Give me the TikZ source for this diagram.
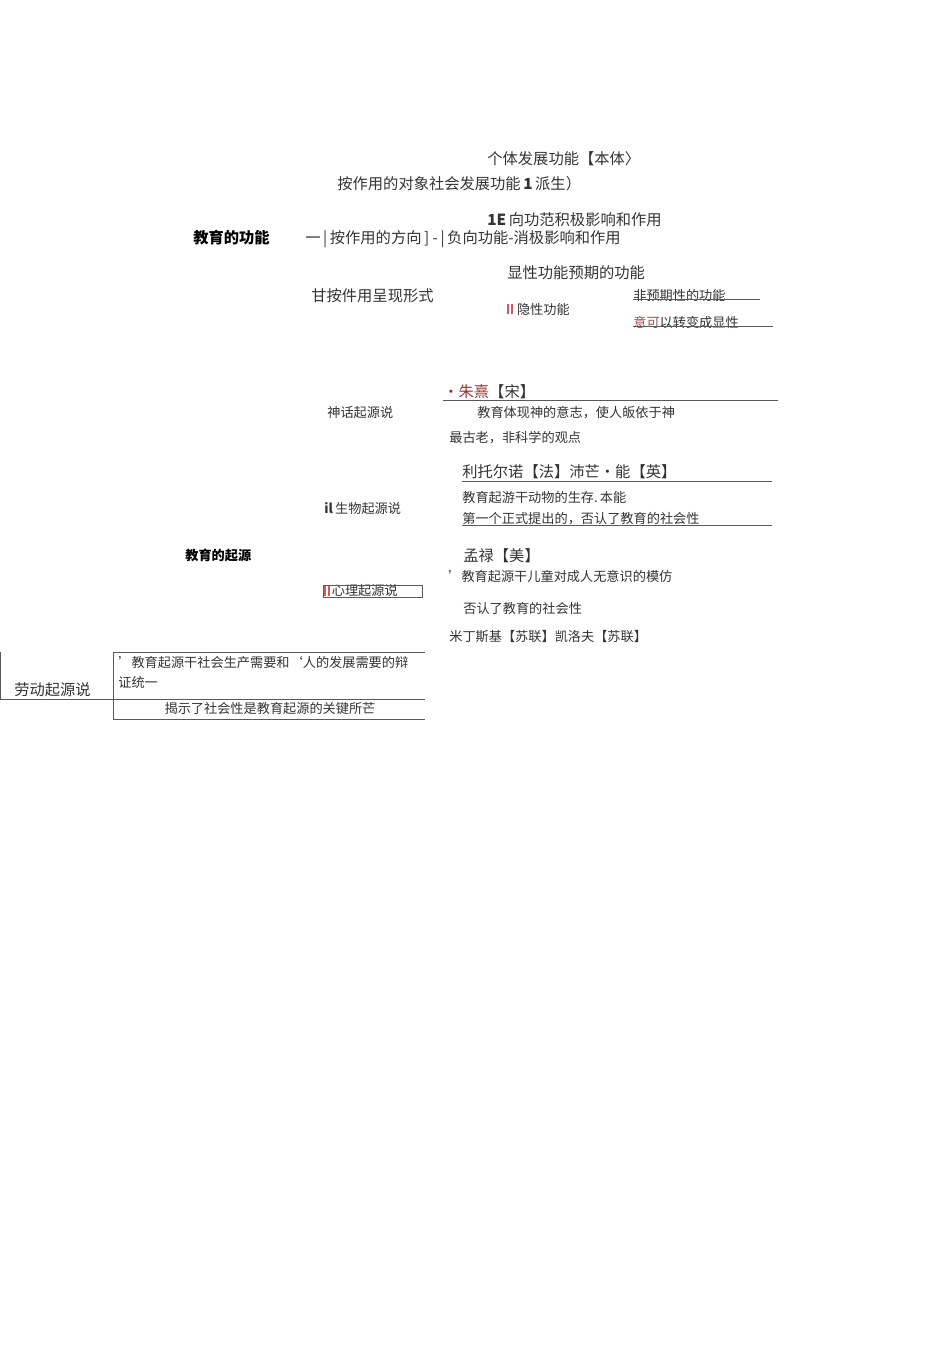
\documentclass[tikz,border=0pt]{standalone}
\usepackage{fontspec}
\setmainfont{Noto Sans CJK SC}
\usepackage{tikz}
\usetikzlibrary{positioning}

\newcommand{\redbars}{{\color{red!75!black!65}\rule{1.1pt}{5.5pt}\hspace{0.8pt}\rule{1.1pt}{5.5pt}}}

\begin{document}
\begin{tikzpicture}[x=0.02cm,y=-0.02cm,
	txt/.style={anchor=west,inner sep=0pt,text=black!80,font=\fontsize{8.7}{10}\selectfont},
	small txt/.style={txt,font=\fontsize{7.5}{9}\selectfont},
	head txt/.style={txt,text=black,font=\fontsize{8.7}{10}\selectfont\bfseries},
	rule/.style={draw=black!65,line width=0.5pt}]
	
	\useasboundingbox (0,0) rectangle (950,1354);
	
	% educational functions
	\node[head txt] (func) at (193,238) {教育的功能};
	\node[txt] (indiv) at (487,159) {个体发展功能【本体〉};
	\node[txt] (obj) at (337,184) {按作用的对象社会发展功能\,\textbf{1}\,派生）};
	\node[txt] (pos) at (487,220) {\textbf{1E}\,向功范积极影响和作用};
	\node[txt] (dir) at (305,239) {一\,|\,按作用的方向\,]\ -\,|\,负向功能-消极影响和作用};
	\node[txt] (expl) at (507,273) {显性功能预期的功能};
	\node[txt] (form) at (311,296) {甘按件用呈现形式};
	\node[small txt] (impl) at (507,309) {\redbars\,\,隐性功能};
	\node[small txt] (unexp) at (633,295) {非预期性的功能};
	\node[small txt] (conv) at (633,322) {{\color{red!50!black!70}意可}以转变成显性};
	\coordinate (unexp e) at (760,299);
	\coordinate (conv e) at (773,326);
	\draw[rule] (unexp.west |- unexp e) -- (unexp e);
	\draw[rule] (conv.west |- conv e) -- (conv e);
	
	% origins of education
	\node[head txt,font=\fontsize{7.5}{9}\selectfont\bfseries] (orig) at (185,555) {教育的起源};
	\node[txt] (zhu) at (443,392) {{\color{red!50!black!80}•朱熹}【宋】};
	\coordinate (zhu e) at (778,400);
	\draw[rule] (zhu.west |- zhu e) -- (zhu e);
	\node[small txt] (myth) at (327,413) {神话起源说};
	\node[small txt] (god) at (477,413) {教育体现神的意志，使人皈依于神};
	\node[small txt] (old) at (449,438) {最古老，非科学的观点};
	
	\node[txt] (leto) at (462,472) {利托尔诺【法】沛芒•能【英】};
	\coordinate (leto e) at (772,481);
	\draw[rule] (leto.west |- leto e) -- (leto e);
	\node[small txt] (instinct) at (462,497) {教育起游干动物的生存.\,本能};
	\node[small txt] (bio) at (324,509) {\textbf{il}\,生物起源说};
	\node[small txt] (first) at (462,519) {第一个正式提出的，否认了教育的社会性};
	\coordinate (first e) at (772,525);
	\draw[rule] (first.west |- first e) -- (first e);
	
	\node[txt] (monroe) at (463,556) {孟禄【美】};
	\node[small txt] (imit) at (448,576) {’教育起源干儿童对成人无意识的模仿};
	\node[small txt] (psy) at (324,591) {\redbars\,心理起源说};
	\draw[rule,line width=0.4pt] (323,585) rectangle (422,597);
	\node[small txt] (deny) at (463,608) {否认了教育的社会性};
	\node[small txt] (mid) at (449,637) {米丁斯基【苏联】凯洛夫【苏联】};
	
	% labour origin table
	\coordinate (tl) at (113,652);
	\coordinate (tr) at (425,652);
	\coordinate (ml) at (113,699);
	\coordinate (mr) at (425,699);
	\coordinate (bl) at (113,719);
	\coordinate (br) at (425,719);
	\coordinate (lt) at (0,652);
	\coordinate (lb) at (0,699);
	\draw[rule] (tl) -- (tr);
	\draw[rule] (ml) -- (mr);
	\draw[rule] (bl) -- (br);
	\draw[rule] (tl) -- (bl);
	\draw[rule] (lt) -- (lb) -- (ml);
	\node[txt] (labour) at (14,690) {劳动起源说};
	\node[small txt] (need) at (118,662) {’教育起源干社会生产需要和‘人的发展需要的辩};
	\node[small txt] (unity) at (118,682) {证统一};
	\node[small txt,anchor=center] (key) at (270,708) {揭示了社会性是教育起源的关键所芒};
\end{tikzpicture}
\end{document}
